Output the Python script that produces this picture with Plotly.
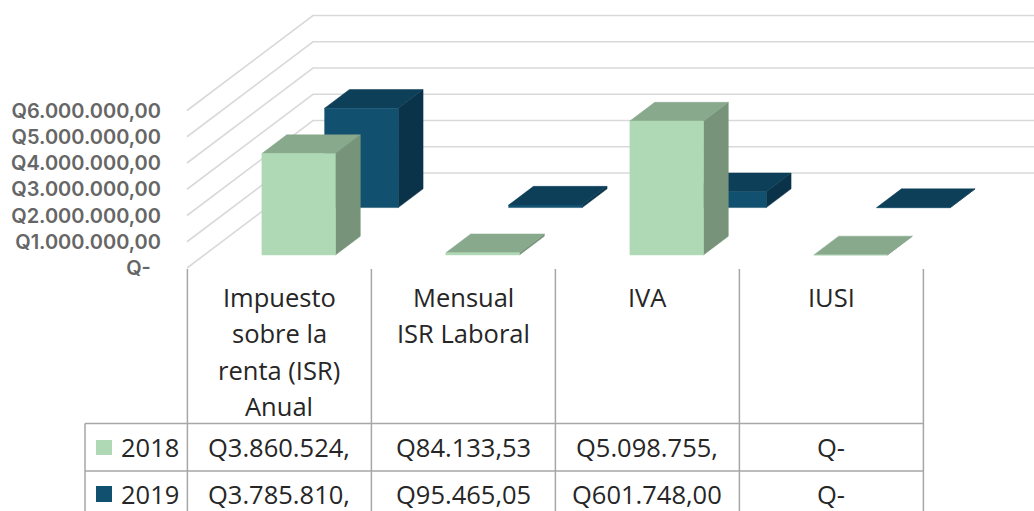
import plotly.graph_objects as go

# ---- data ----
categories = ["Impuesto<br>sobre la<br>renta (ISR)<br>Anual", "Mensual<br>ISR Laboral", "IVA", "IUSI"]
series_names = ["2018", "2019"]
values_2018 = [3860524, 84133.53, 5098755, 0]
values_2019 = [3785810, 95465.05, 601748, 0]
table_2018 = ["Q3.860.524,", "Q84.133,53", "Q5.098.755,", "Q-"]
table_2019 = ["Q3.785.810,", "Q95.465,05", "Q601.748,00", "Q-"]
tick_values = [0, 1000000, 2000000, 3000000, 4000000, 5000000, 6000000]
tick_labels = ["Q-\u00a0\u00a0", "Q1.000.000,00", "Q2.000.000,00", "Q3.000.000,00",
               "Q4.000.000,00", "Q5.000.000,00", "Q6.000.000,00"]

# ---- layout constants (pixels of the 1034x511 page) ----
W, H = 1034, 511
X0, Y0 = 187, 268          # front-left floor corner
CAT_W = 184                # pixels per category
PX_PER_UNIT = 26.25 / 1e6  # pixels per quetzal
DEPTH_PX = (126, 95)       # floor depth vector, pixels
DX = DEPTH_PX[0] / CAT_W
DY = DEPTH_PX[1] / PX_PER_UNIT
BAR_LEFT, BAR_W = 0.3125, 0.40
BAR_D = 0.197
SERIES_D = [0.138, 0.636]

GRID = "#d9d9d9"
TABLE = "#a6a6a6"
TXT = "#262626"
FRONT = ["#AFD9B5", "#12506F"]
TOP = ["#89A98C", "#0D3F58"]
SIDE = ["#77947A", "#0A3349"]


def pr(cat, depth, val):
    """Oblique projection of (category, depth, value) on the 2D axes."""
    return cat + depth * DX, val + depth * DY


def face(pts, color):
    xs, ys = zip(*[pr(*p) for p in pts + pts[:1]])
    return go.Scatter(x=list(xs), y=list(ys), mode="lines", fill="toself", fillcolor=color,
                      line=dict(color=color, width=0.5), hoverinfo="skip", showlegend=False)


fig = go.Figure()

x_right = (W - X0) / CAT_W
for v in tick_values:
    a, b, c = pr(0, 0, v), pr(0, 1, v), pr(x_right - DX, 1, v)
    fig.add_trace(go.Scatter(x=[a[0], b[0], c[0]], y=[a[1], b[1], c[1]], mode="lines",
                             line=dict(color=GRID, width=1.6), hoverinfo="skip", showlegend=False))

for s, vals in reversed(list(enumerate([values_2018, values_2019]))):
    d0, d1 = SERIES_D[s], SERIES_D[s] + BAR_D
    for i, v in enumerate(vals):
        l, r = i + BAR_LEFT, i + BAR_LEFT + BAR_W
        fig.add_trace(face([(r, d0, 0), (r, d1, 0), (r, d1, v), (r, d0, v)], SIDE[s]))
        fig.add_trace(face([(l, d0, v), (r, d0, v), (r, d1, v), (l, d1, v)], TOP[s]))
        fig.add_trace(face([(l, d0, 0), (r, d0, 0), (r, d0, v), (l, d0, v)], FRONT[s]))


def px(x):
    return x / W


def py(y):
    return 1 - y / H


shapes = []


def line(x0, y0, x1, y1):
    shapes.append(dict(type="line", xref="paper", yref="paper", x0=px(x0), x1=px(x1), y0=py(y0), y1=py(y1),
                       line=dict(color=TABLE, width=1.5), layer="above"))


col_x = [X0 + 0.4 + i * CAT_W for i in range(5)]
ROW_TOP, ROW_MID, ROW_END = 423.5, 471, 511
for x in col_x:
    line(x, 269, x, ROW_END)
line(85, ROW_TOP, 85, ROW_END)
line(85, ROW_TOP, col_x[-1], ROW_TOP)
line(85, ROW_MID, col_x[-1], ROW_MID)

for k, (yy0, yy1) in enumerate([(440, 455), (486, 502)]):
    shapes.append(dict(type="rect", xref="paper", yref="paper", x0=px(96), x1=px(112), y0=py(yy0), y1=py(yy1),
                       fillcolor=FRONT[k], line=dict(width=0), layer="above"))

FONT = "Open Sans"
FS = 25.5
ann = []


def text(x, y, t):
    ann.append(dict(xref="paper", yref="paper", x=px(x), y=py(y), text=t, showarrow=False,
                    xanchor="center", yanchor="middle", font=dict(family=FONT, size=FS, color=TXT)))


for i, c in enumerate(categories):
    cx = X0 + 0.4 + (i + 0.5) * CAT_W
    for j, part in enumerate(c.split("<br>")):
        text(cx, 297 + j * 36.3, part)
    text(cx, 447, table_2018[i])
    text(cx, 493.5, table_2019[i])
text(150, 447, series_names[0])
text(150, 493.5, series_names[1])

fig.update_layout(
    width=W, height=H, autosize=False, margin=dict(l=0, r=0, t=0, b=0),
    paper_bgcolor="white", plot_bgcolor="white", showlegend=False,
    shapes=shapes, annotations=ann,
    xaxis=dict(range=[-X0 / CAT_W, x_right], visible=False, domain=[0, 1]),
    yaxis=dict(range=[(Y0 - H) / PX_PER_UNIT, Y0 / PX_PER_UNIT], anchor="free", position=161 / W,
               tickmode="array", tickvals=tick_values, ticktext=tick_labels,
               showgrid=False, zeroline=False, showline=False, ticks="",
               tickfont=dict(family="Inter", size=20, color="#666666", weight=600)),
)
fig.write_html("out.html", config=dict(displayModeBar=False),
               post_script="document.body.style.margin='0';document.body.style.overflow='hidden';")
